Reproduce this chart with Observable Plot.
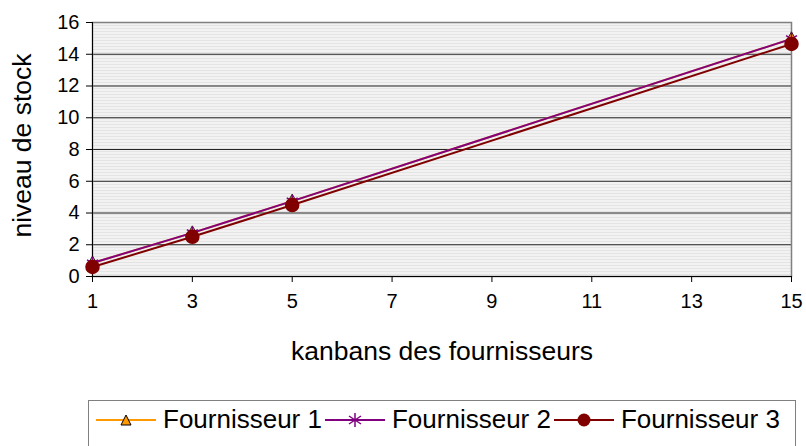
<!DOCTYPE html>
<html><head><meta charset="utf-8">
<script src="https://cdn.jsdelivr.net/npm/d3@7"></script>
<script src="https://cdn.jsdelivr.net/npm/@observablehq/plot@0.6"></script>
<style>
body{margin:0;background:#fff;font-family:"Liberation Sans",Arial,sans-serif;}
#legend{position:absolute;left:88px;top:400px;width:708px;height:60px;border:1px solid #808080;box-sizing:border-box;display:flex;align-items:flex-start;padding-top:3px;padding-left:7px;font-size:26px;color:#000;}
.item{display:flex;align-items:center;margin-right:3px;}
.item svg{margin-right:7px;}
</style></head>
<body>
<div id="chart"></div>
<div id="legend"></div>
<script>
const kanbans = [1, 3, 5, 15];
const series = ["Fournisseur 1", "Fournisseur 2", "Fournisseur 3"];
const fournisseur1 = [0.85, 2.75, 4.75, 14.97];
const fournisseur2 = [0.85, 2.75, 4.75, 14.97];
const fournisseur3 = [0.6, 2.5, 4.5, 14.65];
const xTicks = [1, 3, 5, 7, 9, 11, 13, 15];
const yTicks = [0, 2, 4, 6, 8, 10, 12, 14, 16];
const colors = ["#FF9900", "#800080", "#800000"];

const allValues = [fournisseur1, fournisseur2, fournisseur3];
const rows = [];
series.forEach((s, i) => kanbans.forEach((k, j) => rows.push({serie: s, x: k, y: allValues[i][j]})));
const rowsOf = s => rows.filter(d => d.serie === s);

const chart = Plot.plot({
  width: 806, height: 390,
  marginLeft: 92, marginRight: 15, marginTop: 22, marginBottom: 114,
  style: {fontFamily: "'Liberation Sans', Arial, sans-serif", fontSize: "20px", background: "transparent", overflow: "visible"},
  x: {domain: [1, 15]},
  y: {domain: [0, 16]},
  marks: [
    Plot.frame({fill: "url(#hatch)", stroke: null}),
    Plot.ruleY(yTicks.filter(v => v > 0 && v < 16), {stroke: "#000", strokeWidth: 1, strokeOpacity: 0.85}),
    Plot.frame({stroke: "#808080", strokeWidth: 1.5}),
    Plot.axisY({ticks: yTicks, tickSize: 6, tickPadding: 7, fontSize: 20, label: null, stroke: "#000"}),
    Plot.axisX({ticks: xTicks, tickSize: 6, tickPadding: 11, fontSize: 20, label: null, stroke: "#000"}),
    Plot.ruleX([1], {stroke: "#000"}),
    Plot.ruleY([0], {stroke: "#000"}),
    Plot.line(rowsOf(series[0]), {x: "x", y: "y", stroke: colors[0], strokeWidth: 2}),
    Plot.dot(rowsOf(series[0]), {x: "x", y: "y", symbol: "triangle", r: 4.5, fill: colors[0], stroke: "#000", strokeWidth: 0.8}),
    Plot.line(rowsOf(series[1]), {x: "x", y: "y", stroke: colors[1], strokeWidth: 2}),
    Plot.dot(rowsOf(series[1]), {x: "x", y: "y", symbol: "asterisk", r: 6, stroke: colors[1], strokeWidth: 1.5}),
    Plot.line(rowsOf(series[2]), {x: "x", y: "y", stroke: colors[2], strokeWidth: 2}),
    Plot.dot(rowsOf(series[2]), {x: "x", y: "y", symbol: "circle", r: 6.5, fill: colors[2], stroke: colors[2]}),
    Plot.text(["niveau de stock"], {frameAnchor: "left", dx: -70, dy: -4, rotate: -90, textAnchor: "middle", lineAnchor: "middle", fontSize: 26.5, fill: "#000"}),
    Plot.text(["kanbans des fournisseurs"], {frameAnchor: "bottom", dy: 75, textAnchor: "middle", lineAnchor: "middle", fontSize: 26.5, fill: "#000"})
  ]
});

const defs = document.createElementNS("http://www.w3.org/2000/svg", "defs");
defs.innerHTML = '<pattern id="hatch" patternUnits="userSpaceOnUse" width="8" height="3"><rect width="8" height="3" fill="#e4e4e4"/><rect y="2" width="8" height="1" fill="#ffffff"/></pattern>';
chart.insertBefore(defs, chart.firstChild);
document.getElementById("chart").appendChild(chart);

const legend = document.getElementById("legend");
const symbols = [
  '<polygon points="30,6 35,16 25,16" fill="#FF9900" stroke="#000" stroke-width="1"/>',
  '<path d="M30,4V18M24,7L36,15M24,15L36,7" stroke="#800080" stroke-width="1.5"/>',
  '<circle cx="30" cy="11" r="6.5" fill="#800000"/>'
];
series.forEach((s, i) => {
  const div = document.createElement("div");
  div.className = "item";
  div.innerHTML = `<svg width="60" height="22"><line x1="0" x2="60" y1="11" y2="11" stroke="${colors[i]}" stroke-width="2"/>${symbols[i]}</svg><span>${s}</span>`;
  legend.appendChild(div);
});
</script>
</body></html>
